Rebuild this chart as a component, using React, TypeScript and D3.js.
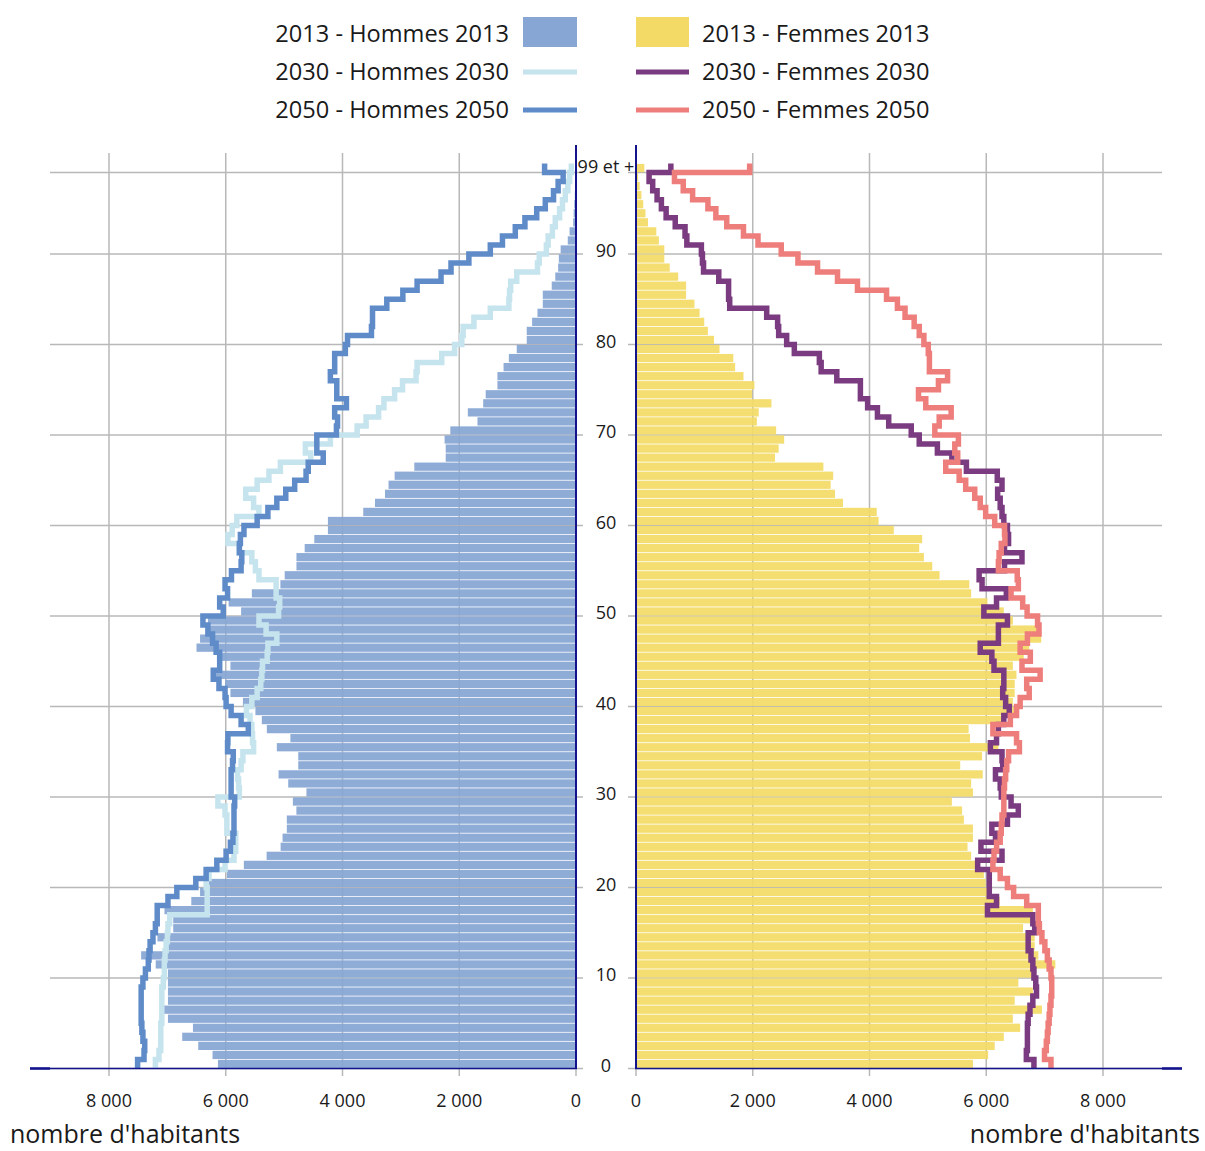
import React from "react";
import * as d3 from "d3";

// ---------- DATA ----------
const ages: number[] = d3.range(0, 100); // 0 .. 99 ("99 et +")

const hommes2013 = [
  6134, 6226, 6471, 6746, 6562, 6990, 7070, 6990, 6990, 6990,
  6990, 7200, 7450, 7020, 7170, 6900, 6900, 7050, 6590, 6440,
  6290, 5980, 5690, 5300, 5060, 5027, 4954, 4954, 4790, 4850,
  4618, 4930, 5095, 4758, 4758, 5125, 4893, 5296, 5382, 5492,
  5706, 5920, 6012, 6226, 5920, 6134, 6501, 6440, 6318, 6305,
  5737, 5951, 5553, 5064, 4990, 4789, 4789, 4648, 4483, 4250,
  4250, 3645, 3443, 3272, 3211, 3107, 2770, 2232, 2232, 2251,
  2153, 1688, 1853, 1590, 1547, 1346, 1346, 1241, 1150, 1015,
  844, 844, 752, 660, 569, 569, 416, 355, 306, 294,
  263, 141, 110, 49, 40, 30, 20, 15, 10, 10,
];

const hommes2030 = [
  7205, 7144, 7113, 7113, 7113, 7095, 7095, 7095, 7095, 7070,
  7052, 7052, 7040, 7021, 7000, 6990, 6960, 6318, 6318, 6318,
  6336, 6287, 6012, 5859, 5829, 5829, 5981, 5981, 6012, 6134,
  5767, 5780, 5798, 5737, 5706, 5523, 5541, 5553, 5584, 5645,
  5553, 5462, 5400, 5382, 5370, 5290, 5278, 5125, 5309, 5431,
  5095, 5076, 5137, 5137, 5431, 5492, 5553, 5767, 5963, 5890,
  5810, 5431, 5523, 5657, 5462, 5260, 5064, 4544, 4636, 4208,
  3749, 3596, 3382, 3290, 3107, 2972, 2740, 2722, 2300, 2080,
  1957, 1933, 1749, 1468, 1150, 1138, 1119, 1015, 660, 630,
  508, 477, 404, 355, 281, 232, 183, 140, 110, 80,
];

const hommes2050 = [
  7510, 7400, 7388, 7419, 7437, 7449, 7449, 7449, 7449, 7419,
  7376, 7327, 7315, 7296, 7247, 7205, 7174, 7174, 6990, 6838,
  6513, 6336, 6153, 5994, 5920, 5877, 5859, 5859, 5859, 5847,
  5908, 5908, 5908, 5884, 5871, 5969, 5963, 5614, 5737, 5908,
  5994, 6012, 6116, 6214, 6104, 6104, 6165, 6226, 6306, 6391,
  6043, 6104, 5969, 6012, 5902, 5737, 5725, 5767, 5749, 5688,
  5462, 5278, 5125, 4972, 4819, 4624, 4587, 4330, 4440, 4440,
  4104, 4085, 4134, 3933, 4098, 4098, 4208, 4134, 4134, 3951,
  3914, 3504, 3486, 3486, 3241, 2966, 2722, 2312, 2141, 1835,
  1468, 1260, 1040, 875, 673, 526, 385, 306, 220, 538,
];

const femmes2013 = [
  5772, 6033, 6145, 6301, 6581, 6456, 6954, 6487, 6798, 6550,
  6829, 7184, 6892, 6830, 6830, 6630, 6830, 6798, 6230, 6052,
  5990, 5959, 5865, 5741, 5679, 5772, 5772, 5617, 5586, 5411,
  5772, 5741, 5940, 5554, 5928, 6208, 5722, 5697, 6301, 6487,
  6456, 6487, 6487, 6518, 6456, 6643, 6736, 6942, 6892, 6456,
  6300, 6021, 5741, 5710, 5200, 5075, 4932, 4852, 4902, 4416,
  4155, 4124, 3545, 3409, 3334, 3378, 3210, 2382, 2444, 2538,
  2401, 2071, 2102, 2320, 1990, 2028, 1841, 1698, 1667, 1431,
  1337, 1232, 1169, 1089, 1001, 858, 858, 722, 578, 485,
  485, 392, 348, 205, 162, 124, 93, 62, 37, 143,
];

const femmes2030 = [
  6817, 6687, 6705, 6705, 6705, 6718, 6749, 6798, 6861, 6848,
  6817, 6798, 6767, 6718, 6718, 6830, 6798, 6021, 6176, 6052,
  6052, 6052, 5853, 6270, 5909, 6158, 6096, 6363, 6549, 6425,
  6258, 6239, 6158, 6282, 6270, 6071, 6176, 6208, 6301, 6394,
  6332, 6282, 6301, 6301, 6133, 6096, 5897, 6208, 6208, 6363,
  5959, 6176, 6344, 5928, 5878, 6313, 6612, 6313, 6382, 6363,
  6301, 6270, 6239, 6195, 6270, 6189, 5660, 5411, 5163, 4852,
  4715, 4329, 4136, 3968, 3844, 3844, 3440, 3172, 3141, 2712,
  2581, 2444, 2426, 2239, 1605, 1586, 1586, 1418, 1157, 1138,
  1120, 871, 840, 672, 516, 435, 361, 286, 224, 597,
];

const femmes2050 = [
  7109, 6998, 7029, 7047, 7060, 7078, 7091, 7109, 7122, 7122,
  7109, 7078, 7047, 7004, 6954, 6910, 6892, 6892, 6693, 6469,
  6363, 6239, 6114, 6133, 6177, 6239, 6257, 6270, 6301, 6301,
  6301, 6313, 6332, 6351, 6382, 6568, 6519, 6114, 6413, 6519,
  6581, 6736, 6693, 6923, 6612, 6755, 6581, 6705, 6904, 6879,
  6700, 6624, 6425, 6550, 6531, 6208, 6220, 6257, 6320, 6313,
  6145, 5990, 5897, 5803, 5648, 5536, 5306, 5511, 5461, 5523,
  5119, 5194, 5399, 4964, 4839, 5181, 5337, 5026, 5026, 5007,
  4932, 4852, 4765, 4609, 4478, 4292, 3794, 3452, 3110, 2774,
  2488, 2090, 1841, 1555, 1368, 1232, 970, 809, 659, 1947,
];

const ageTicks = [0, 10, 20, 30, 40, 50, 60, 70, 80, 90, 99];
const ageTickLabels = ["0", "10", "20", "30", "40", "50", "60", "70", "80", "90", "99 et +"];
const valueTicks = [0, 2000, 4000, 6000, 8000];
const valueTickLabels = ["0", "2 000", "4 000", "6 000", "8 000"];

const legendLeft = ["2013 - Hommes 2013", "2030 - Hommes 2030", "2050 - Hommes 2050"];
const legendRight = ["2013 - Femmes 2013", "2030 - Femmes 2030", "2050 - Femmes 2050"];
const axisTitle = "nombre d'habitants";

// ---------- STYLE ----------
const C = {
  barMen: "#87a6d4",
  barWomen: "#f3da66",
  h30: "#c6e4ee",
  h50: "#5f8cc9",
  f30: "#7b3b80",
  f50: "#ee7e7b",
  axis: "#13138c",
  grid: "#b8b8b8",
  text: "#1a1a1a",
};
const FONT = "'Open Sans', 'Noto Sans', sans-serif";

export default function App() {
  const W = 1205, H = 1151;
  const y = d3.scaleLinear().domain([0, 100]).range([1068.5, 163.5]);
  const xL = d3.scaleLinear().domain([0, 9000]).range([576, 576 - 9000 * 0.058375]);
  const xR = d3.scaleLinear().domain([0, 9000]).range([636, 636 + 9000 * 0.058375]);

  const stepPath = (vals: number[], xs: d3.ScaleLinear<number, number>) =>
    d3.line()(
      vals.flatMap((v, a) => [
        [xs(v), y(a)] as [number, number],
        [xs(v), y(a + 1)] as [number, number],
      ])
    ) || "";

  const bandH = Math.abs(y(1) - y(0));
  const gap = 0.8;

  const legendRows = [34, 72, 110];

  return (
    <svg
      width={W}
      height={H}
      style={{ position: "absolute", left: 0, top: 0, background: "#fff" }}
      fontFamily={FONT}
    >
      {/* horizontal grid */}
      {ageTicks.map((a) => (
        <g key={"hg" + a}>
          <line x1={50} x2={583} y1={y(a)} y2={y(a)} stroke={C.grid} strokeWidth={1.5} />
          <line x1={628} x2={1162} y1={y(a)} y2={y(a)} stroke={C.grid} strokeWidth={1.5} />
        </g>
      ))}
      {/* vertical grid */}
      {valueTicks.map((v) => (
        <g key={"vg" + v}>
          <line x1={xL(v)} x2={xL(v)} y1={153} y2={1076} stroke={C.grid} strokeWidth={1.5} />
          <line x1={xR(v)} x2={xR(v)} y1={153} y2={1076} stroke={C.grid} strokeWidth={1.5} />
        </g>
      ))}

      {/* bars */}
      {ages.map((a) => (
        <rect
          key={"bm" + a}
          x={xL(hommes2013[a])}
          y={y(a + 1) + gap / 2}
          width={xL(0) - xL(hommes2013[a])}
          height={bandH - gap}
          fill={C.barMen}
          fillOpacity={0.93}
        />
      ))}
      {ages.map((a) => (
        <rect
          key={"bw" + a}
          x={xR(0)}
          y={y(a + 1) + gap / 2}
          width={xR(femmes2013[a]) - xR(0)}
          height={bandH - gap}
          fill={C.barWomen}
          fillOpacity={0.93}
        />
      ))}

      {/* step lines */}
      <path d={stepPath(hommes2030, xL)} fill="none" stroke={C.h30} strokeWidth={5.5} />
      <path d={stepPath(hommes2050, xL)} fill="none" stroke={C.h50} strokeWidth={5.5} />
      <path d={stepPath(femmes2030, xR)} fill="none" stroke={C.f30} strokeWidth={5.5} />
      <path d={stepPath(femmes2050, xR)} fill="none" stroke={C.f50} strokeWidth={5.5} />

      {/* axes */}
      <line x1={576} x2={576} y1={145} y2={1069} stroke={C.axis} strokeWidth={2} />
      <line x1={636} x2={636} y1={145} y2={1069} stroke={C.axis} strokeWidth={2} />
      <line x1={30} x2={577} y1={1068.5} y2={1068.5} stroke={C.axis} strokeWidth={1.5} />
      <line x1={30} x2={50} y1={1068.5} y2={1068.5} stroke={C.axis} strokeWidth={2.5} />
      <line x1={635} x2={1182} y1={1068.5} y2={1068.5} stroke={C.axis} strokeWidth={1.5} />
      <line x1={1162} x2={1182} y1={1068.5} y2={1068.5} stroke={C.axis} strokeWidth={2.5} />

      {/* age labels */}
      {ageTicks.map((a, i) => (
        <text
          key={"al" + a}
          x={606}
          y={y(a) - (i === ageTicks.length - 1 ? 6 : 3)}
          dy="0.35em"
          textAnchor="middle"
          fontSize={18}
          fill={C.text}
        >
          {ageTickLabels[i]}
        </text>
      ))}

      {/* value tick labels */}
      {valueTicks.map((v, i) => (
        <g key={"vl" + v}>
          <text x={xL(v)} y={1101} dy="0.35em" textAnchor="middle" fontSize={18} fill={C.text}>
            {valueTickLabels[i]}
          </text>
          <text x={xR(v)} y={1101} dy="0.35em" textAnchor="middle" fontSize={18} fill={C.text}>
            {valueTickLabels[i]}
          </text>
        </g>
      ))}

      {/* axis titles */}
      <text x={10} y={1134} dy="0.35em" fontSize={25} fill={C.text}>
        {axisTitle}
      </text>
      <text x={1200} y={1134} dy="0.35em" textAnchor="end" fontSize={25} fill={C.text}>
        {axisTitle}
      </text>

      {/* legend */}
      {legendLeft.map((t, i) => (
        <text key={"ll" + i} x={509} y={legendRows[i]} dy="0.35em" textAnchor="end" fontSize={23.6} fill={C.text}>
          {t}
        </text>
      ))}
      {legendRight.map((t, i) => (
        <text key={"lr" + i} x={702} y={legendRows[i]} dy="0.35em" fontSize={23.6} fill={C.text}>
          {t}
        </text>
      ))}
      <rect x={523} y={17} width={54} height={30} fill={C.barMen} />
      <line x1={523} x2={577} y1={legendRows[1]} y2={legendRows[1]} stroke={C.h30} strokeWidth={5} />
      <line x1={523} x2={577} y1={legendRows[2]} y2={legendRows[2]} stroke={C.h50} strokeWidth={5} />
      <rect x={636} y={17} width={53} height={30} fill={C.barWomen} />
      <line x1={636} x2={689} y1={legendRows[1]} y2={legendRows[1]} stroke={C.f30} strokeWidth={5} />
      <line x1={636} x2={689} y1={legendRows[2]} y2={legendRows[2]} stroke={C.f50} strokeWidth={5} />
    </svg>
  );
}
